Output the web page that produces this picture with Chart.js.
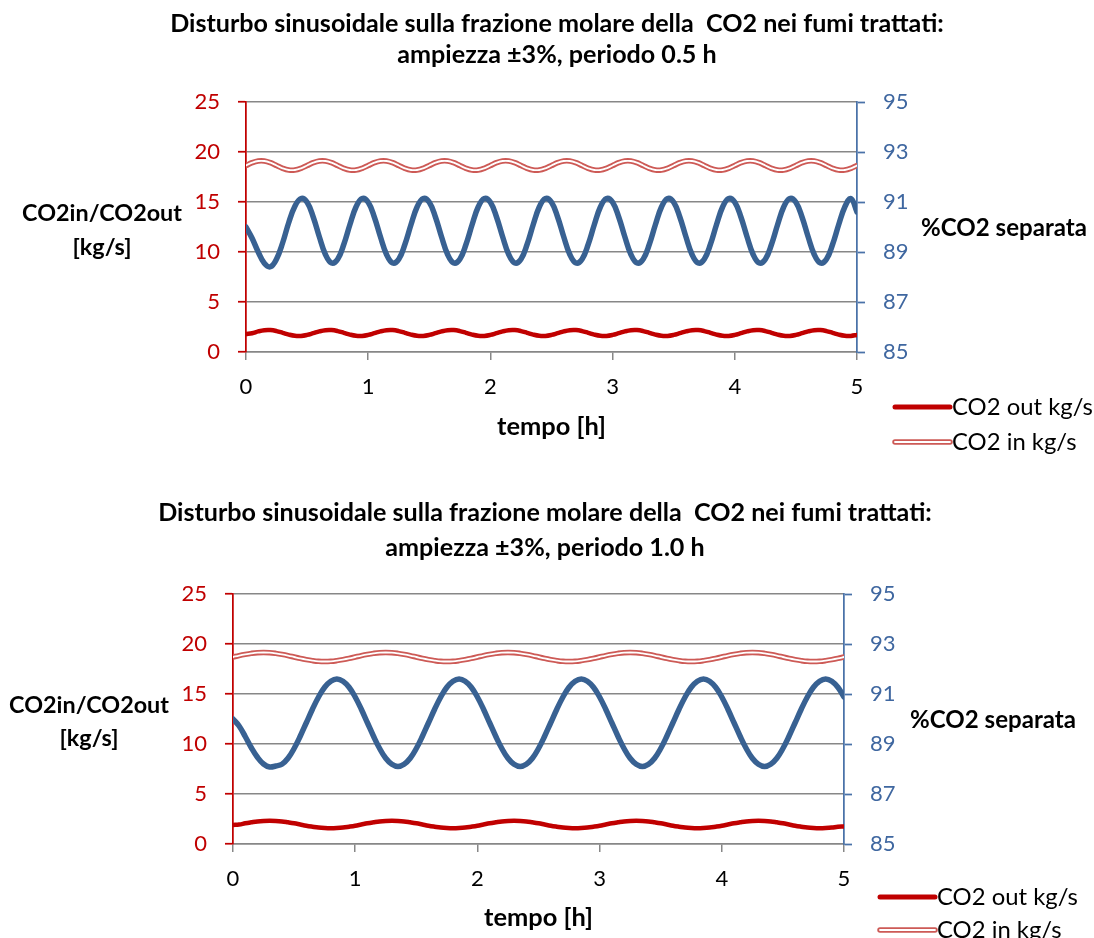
<!DOCTYPE html>
<html>
<head>
<meta charset="utf-8">
<script src="https://cdn.jsdelivr.net/npm/chart.js@4.4.0/dist/chart.umd.min.js"></script>
<style>
  body { margin: 0; background: #fff; }
  canvas { display: block; }
</style>
</head>
<body>
<canvas id="chart1" width="1094" height="469"></canvas>
<canvas id="chart2" width="1094" height="469"></canvas>
<script>
// tempo [h]
const TIME = [
  0, 0.05, 0.1, 0.15, 0.2, 0.25, 0.3, 0.35, 0.4, 0.45,
  0.5, 0.55, 0.6, 0.65, 0.7, 0.75, 0.8, 0.85, 0.9, 0.95,
  1, 1.05, 1.1, 1.15, 1.2, 1.25, 1.3, 1.35, 1.4, 1.45,
  1.5, 1.55, 1.6, 1.65, 1.7, 1.75, 1.8, 1.85, 1.9, 1.95,
  2, 2.05, 2.1, 2.15, 2.2, 2.25, 2.3, 2.35, 2.4, 2.45,
  2.5, 2.55, 2.6, 2.65, 2.7, 2.75, 2.8, 2.85, 2.9, 2.95,
  3, 3.05, 3.1, 3.15, 3.2, 3.25, 3.3, 3.35, 3.4, 3.45,
  3.5, 3.55, 3.6, 3.65, 3.7, 3.75, 3.8, 3.85, 3.9, 3.95,
  4, 4.05, 4.1, 4.15, 4.2, 4.25, 4.3, 4.35, 4.4, 4.45,
  4.5, 4.55, 4.6, 4.65, 4.7, 4.75, 4.8, 4.85, 4.9, 4.95,
  5
];

// periodo 0.5 h
const CO2_OUT_1 = [
  1.80, 1.88, 2.06, 2.18, 2.19, 2.09, 1.92, 1.74, 1.62, 1.61,
  1.71, 1.88, 2.06, 2.18, 2.19, 2.09, 1.92, 1.74, 1.62, 1.61,
  1.71, 1.88, 2.06, 2.18, 2.19, 2.09, 1.92, 1.74, 1.62, 1.61,
  1.71, 1.88, 2.06, 2.18, 2.19, 2.09, 1.92, 1.74, 1.62, 1.61,
  1.71, 1.88, 2.06, 2.18, 2.19, 2.09, 1.92, 1.74, 1.62, 1.61,
  1.71, 1.88, 2.06, 2.18, 2.19, 2.09, 1.92, 1.74, 1.62, 1.61,
  1.71, 1.88, 2.06, 2.18, 2.19, 2.09, 1.92, 1.74, 1.62, 1.61,
  1.71, 1.88, 2.06, 2.18, 2.19, 2.09, 1.92, 1.74, 1.62, 1.61,
  1.71, 1.88, 2.06, 2.18, 2.19, 2.09, 1.92, 1.74, 1.62, 1.61,
  1.71, 1.88, 2.06, 2.18, 2.19, 2.09, 1.92, 1.74, 1.62, 1.61,
  1.71
];
const CO2_IN_1 = [
  18.65, 18.93, 19.10, 19.10, 18.93, 18.65, 18.37, 18.20, 18.20, 18.37,
  18.65, 18.93, 19.10, 19.10, 18.93, 18.65, 18.37, 18.20, 18.20, 18.37,
  18.65, 18.93, 19.10, 19.10, 18.93, 18.65, 18.37, 18.20, 18.20, 18.37,
  18.65, 18.93, 19.10, 19.10, 18.93, 18.65, 18.37, 18.20, 18.20, 18.37,
  18.65, 18.93, 19.10, 19.10, 18.93, 18.65, 18.37, 18.20, 18.20, 18.37,
  18.65, 18.93, 19.10, 19.10, 18.93, 18.65, 18.37, 18.20, 18.20, 18.37,
  18.65, 18.93, 19.10, 19.10, 18.93, 18.65, 18.37, 18.20, 18.20, 18.37,
  18.65, 18.93, 19.10, 19.10, 18.93, 18.65, 18.37, 18.20, 18.20, 18.37,
  18.65, 18.93, 19.10, 19.10, 18.93, 18.65, 18.37, 18.20, 18.20, 18.37,
  18.65, 18.93, 19.10, 19.10, 18.93, 18.65, 18.37, 18.20, 18.20, 18.37,
  18.65
];
const SEP_1 = [
  90.00, 89.55, 89.00, 88.55, 88.41, 88.72, 89.37, 90.18, 90.83, 91.14,
  90.99, 90.40, 89.61, 88.90, 88.56, 88.71, 89.30, 90.09, 90.80, 91.14,
  90.99, 90.40, 89.61, 88.90, 88.56, 88.71, 89.30, 90.09, 90.80, 91.14,
  90.99, 90.40, 89.61, 88.90, 88.56, 88.71, 89.30, 90.09, 90.80, 91.14,
  90.99, 90.40, 89.61, 88.90, 88.56, 88.71, 89.30, 90.09, 90.80, 91.14,
  90.99, 90.40, 89.61, 88.90, 88.56, 88.71, 89.30, 90.09, 90.80, 91.14,
  90.99, 90.40, 89.61, 88.90, 88.56, 88.71, 89.30, 90.09, 90.80, 91.14,
  90.99, 90.40, 89.61, 88.90, 88.56, 88.71, 89.30, 90.09, 90.80, 91.14,
  90.99, 90.40, 89.61, 88.90, 88.56, 88.71, 89.30, 90.09, 90.80, 91.14,
  90.99, 90.40, 89.61, 88.90, 88.56, 88.71, 89.30, 90.09, 90.80, 91.14,
  90.60
];

// periodo 1.0 h
const CO2_OUT_2 = [
  1.90, 1.95, 2.07, 2.17, 2.26, 2.31, 2.33, 2.31, 2.26, 2.17,
  2.07, 1.95, 1.83, 1.73, 1.64, 1.59, 1.57, 1.59, 1.64, 1.73,
  1.83, 1.95, 2.07, 2.17, 2.26, 2.31, 2.33, 2.31, 2.26, 2.17,
  2.07, 1.95, 1.83, 1.73, 1.64, 1.59, 1.57, 1.59, 1.64, 1.73,
  1.83, 1.95, 2.07, 2.17, 2.26, 2.31, 2.33, 2.31, 2.26, 2.17,
  2.07, 1.95, 1.83, 1.73, 1.64, 1.59, 1.57, 1.59, 1.64, 1.73,
  1.83, 1.95, 2.07, 2.17, 2.26, 2.31, 2.33, 2.31, 2.26, 2.17,
  2.07, 1.95, 1.83, 1.73, 1.64, 1.59, 1.57, 1.59, 1.64, 1.73,
  1.83, 1.95, 2.07, 2.17, 2.26, 2.31, 2.33, 2.31, 2.26, 2.17,
  2.07, 1.95, 1.83, 1.73, 1.64, 1.59, 1.57, 1.59, 1.64, 1.73,
  1.76
];
const CO2_IN_2 = [
  18.70, 18.84, 18.96, 19.06, 19.13, 19.15, 19.13, 19.06, 18.96, 18.84,
  18.70, 18.56, 18.44, 18.34, 18.27, 18.25, 18.27, 18.34, 18.44, 18.56,
  18.70, 18.84, 18.96, 19.06, 19.13, 19.15, 19.13, 19.06, 18.96, 18.84,
  18.70, 18.56, 18.44, 18.34, 18.27, 18.25, 18.27, 18.34, 18.44, 18.56,
  18.70, 18.84, 18.96, 19.06, 19.13, 19.15, 19.13, 19.06, 18.96, 18.84,
  18.70, 18.56, 18.44, 18.34, 18.27, 18.25, 18.27, 18.34, 18.44, 18.56,
  18.70, 18.84, 18.96, 19.06, 19.13, 19.15, 19.13, 19.06, 18.96, 18.84,
  18.70, 18.56, 18.44, 18.34, 18.27, 18.25, 18.27, 18.34, 18.44, 18.56,
  18.70, 18.84, 18.96, 19.06, 19.13, 19.15, 19.13, 19.06, 18.96, 18.84,
  18.70, 18.56, 18.44, 18.34, 18.27, 18.25, 18.27, 18.34, 18.44, 18.56,
  18.70
];
const SEP_2 = [
  90.00, 89.72, 89.30, 88.85, 88.47, 88.20, 88.08, 88.12, 88.19, 88.43,
  88.82, 89.31, 89.85, 90.39, 90.88, 91.27, 91.51, 91.60, 91.51, 91.27,
  90.88, 90.39, 89.85, 89.31, 88.82, 88.43, 88.19, 88.10, 88.19, 88.43,
  88.82, 89.31, 89.85, 90.39, 90.88, 91.27, 91.51, 91.60, 91.51, 91.27,
  90.88, 90.39, 89.85, 89.31, 88.82, 88.43, 88.19, 88.10, 88.19, 88.43,
  88.82, 89.31, 89.85, 90.39, 90.88, 91.27, 91.51, 91.60, 91.51, 91.27,
  90.88, 90.39, 89.85, 89.31, 88.82, 88.43, 88.19, 88.10, 88.19, 88.43,
  88.82, 89.31, 89.85, 90.39, 90.88, 91.27, 91.51, 91.60, 91.51, 91.27,
  90.88, 90.39, 89.85, 89.31, 88.82, 88.43, 88.19, 88.10, 88.19, 88.43,
  88.82, 89.31, 89.85, 90.39, 90.88, 91.27, 91.51, 91.60, 91.51, 91.27,
  90.88
];

const X_TICKS = [0, 1, 2, 3, 4, 5];
const LEFT_TICKS = [0, 5, 10, 15, 20, 25];
const RIGHT_TICKS = [85, 87, 89, 91, 93, 95];

const TITLE_1 = ['Disturbo sinusoidale sulla frazione molare della  CO2 nei fumi trattati:', 'ampiezza \u00b13%, periodo 0.5 h'];
const TITLE_2 = ['Disturbo sinusoidale sulla frazione molare della  CO2 nei fumi trattati:', 'ampiezza \u00b13%, periodo 1.0 h'];
const LEGEND_LABELS = ['CO2 out kg/s', 'CO2 in kg/s'];

const FONT = 'Lato';
const RED = '#c00000';
const PALE_RED = '#cd5a56';
const BLUE = '#386192';
const BLUE_AXIS = '#4a72a8';
const GRID = '#878787';

function fitSize(ctx, text, weight, width) {
  ctx.font = weight + ' 100px ' + FONT;
  return 100 * width / ctx.measureText(text).width;
}

function drawText(ctx, text, x, y, size, weight, align) {
  ctx.font = weight + ' ' + size + 'px ' + FONT;
  ctx.textAlign = align || 'center';
  ctx.textBaseline = 'middle';
  ctx.fillStyle = '#000';
  ctx.fillText(text, x, y);
}

// titles, axis titles and legend
const decor = {
  id: 'decor',
  afterDraw(chart, args, o) {
    const ctx = chart.ctx;
    ctx.save();
    let s = fitSize(ctx, o.title[0], 'bold', o.titleW);
    drawText(ctx, o.title[0], o.titleX, o.titleY[0], s, 'bold');
    drawText(ctx, o.title[1], o.titleX, o.titleY[1], s, 'bold');

    s = fitSize(ctx, 'CO2in/CO2out', 'bold', 160);
    drawText(ctx, 'CO2in/CO2out', o.leftX, o.leftY[0], s, 'bold');
    drawText(ctx, '[kg/s]', o.leftX, o.leftY[1], s, 'bold');

    s = fitSize(ctx, '%CO2 separata', 'bold', 166);
    drawText(ctx, '%CO2 separata', o.rightX, o.rightY, s, 'bold');

    s = fitSize(ctx, 'tempo [h]', 'bold', 109);
    drawText(ctx, 'tempo [h]', (chart.chartArea.left + chart.chartArea.right) / 2, o.xTitleY, s, 'bold');

    // legend
    const [x0, x1] = o.legX;
    ctx.lineCap = 'round';
    ctx.strokeStyle = RED;
    ctx.lineWidth = 5;
    ctx.beginPath(); ctx.moveTo(x0, o.legY[0]); ctx.lineTo(x1, o.legY[0]); ctx.stroke();
    ctx.strokeStyle = PALE_RED;
    ctx.lineWidth = 5.5;
    ctx.beginPath(); ctx.moveTo(x0, o.legY[1]); ctx.lineTo(x1, o.legY[1]); ctx.stroke();
    ctx.strokeStyle = '#fff';
    ctx.lineWidth = 1.8;
    ctx.beginPath(); ctx.moveTo(x0, o.legY[1]); ctx.lineTo(x1, o.legY[1]); ctx.stroke();
    s = fitSize(ctx, LEGEND_LABELS[0], 'normal', 141);
    drawText(ctx, LEGEND_LABELS[0], x1 + 2, o.legY[0], s, 'normal', 'left');
    drawText(ctx, LEGEND_LABELS[1], x1 + 2, o.legY[1], s, 'normal', 'left');
    ctx.restore();
  }
};

const pts = ys => ys.map((y, i) => ({ x: TIME[i], y: y }));

function buildChart(id, out, inn, sep, box) {
  const tickFont = { family: FONT, size: 22 };
  return new Chart(document.getElementById(id), {
    type: 'line',
    data: {
      datasets: [
        { label: '%CO2 separata', data: pts(sep), yAxisID: 'y1', borderColor: BLUE, borderWidth: 5.5, order: 0 },
        { label: LEGEND_LABELS[0], data: pts(out), yAxisID: 'y', borderColor: RED, borderWidth: 4.5, order: 1 },
        { label: '', data: pts(inn), yAxisID: 'y', borderColor: '#fff', borderWidth: 1.8, order: 2 },
        { label: LEGEND_LABELS[1], data: pts(inn), yAxisID: 'y', borderColor: PALE_RED, borderWidth: 5.5, order: 3 }
      ]
    },
    options: {
      responsive: false,
      animation: false,
      events: [],
      layout: { padding: { top: box.top, left: 0, right: 0, bottom: 0 } },
      elements: {
        point: { radius: 0 },
        line: { tension: 0.4, borderCapStyle: 'round', fill: false }
      },
      scales: {
        x: {
          type: 'linear', min: 0, max: 5,
          afterBuildTicks: s => { s.ticks = X_TICKS.map(v => ({ value: v })); },
          afterFit: s => { s.height = box.xH; },
          grid: { drawOnChartArea: false, color: GRID, lineWidth: 1.5, tickLength: 8 },
          border: { color: GRID, width: 1.5 },
          ticks: { font: tickFont, color: '#000', padding: 14, maxRotation: 0 }
        },
        y: {
          position: 'left', min: 0, max: 25,
          afterBuildTicks: s => { s.ticks = LEFT_TICKS.map(v => ({ value: v })); },
          afterFit: s => { s.width = box.left; },
          grid: { color: GRID, lineWidth: 1.5, tickLength: 8, tickColor: RED, tickWidth: 1.75 },
          border: { color: RED, width: 1.75 },
          ticks: { font: tickFont, color: RED, padding: 18 }
        },
        y1: {
          position: 'right', min: 85, max: 95,
          afterBuildTicks: s => { s.ticks = RIGHT_TICKS.map(v => ({ value: v })); },
          afterFit: s => { s.width = box.right; },
          grid: { drawOnChartArea: false, tickLength: 8, color: BLUE_AXIS, tickWidth: 1.75 },
          border: { color: BLUE_AXIS, width: 1.75 },
          ticks: { font: tickFont, color: '#3f67a0', padding: 18 }
        }
      },
      plugins: {
        legend: { display: false },
        tooltip: { enabled: false },
        decor: box.decor
      }
    },
    plugins: [decor]
  });
}

buildChart('chart1', CO2_OUT_1, CO2_IN_1, SEP_1, {
  top: 102, left: 246, right: 237, xH: 117,
  decor: {
    title: TITLE_1, titleX: 557, titleY: [24, 55], titleW: 774,
    leftX: 102, leftY: [213, 247], rightX: 1004, rightY: 228,
    xTitleY: 427, legX: [895, 950], legY: [407, 442]
  }
});

buildChart('chart2', CO2_OUT_2, CO2_IN_2, SEP_2, {
  top: 125, left: 233, right: 250, xH: 94,
  decor: {
    title: TITLE_2, titleX: 545, titleY: [44, 79], titleW: 774,
    leftX: 89, leftY: [236, 269], rightX: 993, rightY: 251,
    xTitleY: 449, legX: [880, 935], legY: [428, 461]
  }
});
</script>
</body>
</html>
